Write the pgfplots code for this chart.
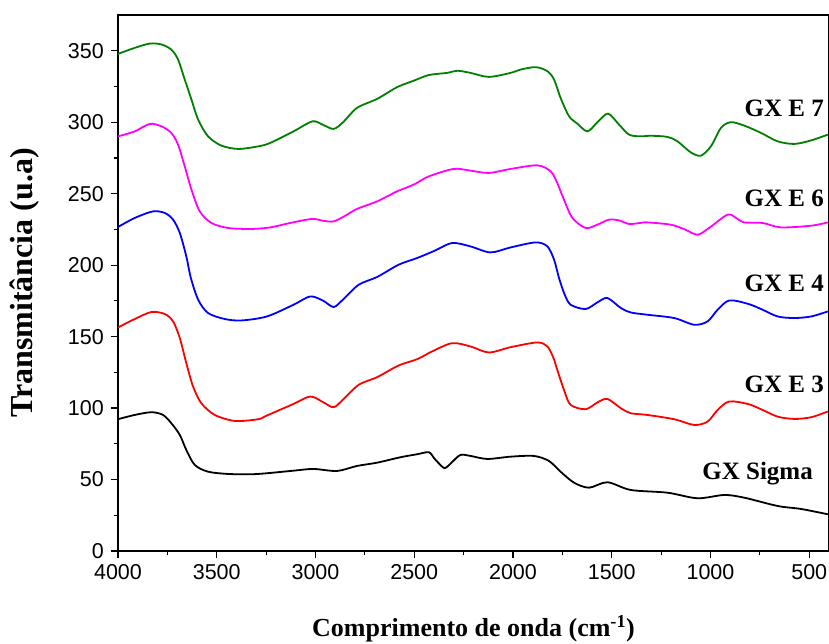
\documentclass[border=0pt]{standalone}
\usepackage{pgfplots}
\pgfplotsset{compat=1.18}
\usepackage{fontspec}
\setmainfont{Liberation Serif}
\newfontfamily\arial{Liberation Sans}
\definecolor{dgreen}{RGB}{0,128,0}
\definecolor{mag}{RGB}{255,0,255}
\definecolor{bl}{RGB}{0,0,255}
\definecolor{rd}{RGB}{255,0,0}
\begin{document}
\begin{tikzpicture}
\begin{axis}[
 scale only axis, width=711pt, height=536pt,
 x dir=reverse, xmin=400, xmax=4000, ymin=0, ymax=375,
 xtick={500,1000,...,4000}, ytick={0,50,...,350},
 minor x tick num=1, minor y tick num=1,
 tick align=outside, xtick pos=bottom, ytick pos=left,
 major tick length=7pt, minor tick length=4pt,
 tick style={line width=1.2pt, black},
 axis line style={line width=1.2pt},
 ticklabel style={font=\arial\fontsize{21.5}{25}\selectfont},
 yticklabel style={inner sep=1pt, xshift=-6pt},
 xticklabel style={inner sep=1pt, yshift=-5pt},
 /pgf/number format/assume math mode=true,
 /pgf/number format/1000 sep={},
 xlabel={Comprimento de onda (cm\textsuperscript{-1})},
 ylabel={Transmitância (u.a)},
 xlabel style={at={(axis description cs:0.5,-0.145)}, anchor=center, font=\bfseries\fontsize{26}{29}\selectfont},
 ylabel style={at={(axis description cs:-0.132,0.5)}, anchor=center, font=\bfseries\fontsize{32}{35}\selectfont},
 every axis plot/.append style={line width=1.8pt, smooth, tension=0.5},
]
\addplot[dgreen] coordinates {(4000,347.8)(3915,352)(3839,355)(3780,354.4)(3730,350.8)(3696,343.9)(3662,329.8)(3628,315.8)(3594,301.8)(3544,290.1)(3476,283.6)(3391,281.3)(3290,283.1)(3229,285.5)(3111,293.6)(3015,300.6)(2960,298)(2908,295.3)(2860,300)(2790,310)(2688,316.3)(2587,324.5)(2503,329)(2426,333)(2333,334.5)(2282,336)(2215,334.5)(2122,331.7)(2012,334.5)(1962,336.8)(1885,338.5)(1826,335.7)(1792,329.8)(1759,317)(1716,304.1)(1674,299)(1623,293.6)(1573,299.9)(1519,306)(1463,298.3)(1412,291.3)(1356,290.1)(1300,290.5)(1218,289.7)(1167,286.6)(1100,278.9)(1049,276.6)(998,283.1)(947,296)(897,300)(829,297.6)(744,292.5)(660,286.6)(575,284.8)(490,287.3)(406,291.3)};
\addplot[mag] coordinates {(4000,290.1)(3915,293.6)(3839,298.8)(3780,297.1)(3730,292.5)(3696,284.3)(3662,269.1)(3628,252.8)(3586,237.6)(3527,229.5)(3442,226)(3324,225.3)(3229,226.4)(3128,229.5)(3018,232.3)(2960,231)(2908,230.6)(2850,234.5)(2790,239.3)(2688,244.6)(2587,251.6)(2503,256.3)(2426,262.1)(2300,267.3)(2215,266.1)(2122,264.5)(2012,267.3)(1877,269.8)(1809,265.6)(1776,257.5)(1742,245.8)(1699,233)(1632,226)(1573,228.3)(1514,231.8)(1463,231.3)(1412,228.8)(1356,229.5)(1320,229.9)(1201,228.3)(1130,225)(1066,221.3)(1007,226)(914,235.3)(870,233)(829,229.9)(736,229.5)(643,226.4)(490,227.6)(406,229.9)};
\addplot[bl] coordinates {(4000,226.7)(3915,233)(3823,237.6)(3763,236.5)(3721,231.8)(3687,222.5)(3654,206.1)(3631,191)(3594,175.8)(3544,166.5)(3459,162.3)(3375,161.3)(3246,164.1)(3111,172.3)(3026,178.1)(2960,175)(2908,170.7)(2860,176)(2781,186.3)(2688,191.7)(2579,200.3)(2485,205)(2393,210.3)(2308,215.5)(2215,213.1)(2114,208.9)(2012,212.4)(1885,215.9)(1826,213.1)(1792,203.8)(1767,191)(1740,180)(1708,172.3)(1632,169.3)(1573,173.9)(1522,177)(1454,170)(1404,166.9)(1320,165.3)(1184,163)(1083,158.3)(1015,160.6)(964,168.8)(905,175.3)(812,173)(744,169.3)(660,164.1)(575,163)(490,164.1)(406,167.6)};
\addplot[rd] coordinates {(4000,156.4)(3915,162.3)(3831,167.2)(3763,165.8)(3721,160.6)(3687,149)(3654,131.4)(3620,115.1)(3578,103.4)(3510,95.2)(3408,91)(3290,92.2)(3246,94.8)(3111,102.9)(3026,108.1)(2960,104)(2908,100.6)(2860,106)(2781,116.3)(2688,121.6)(2579,129.8)(2485,134.2)(2410,139.6)(2308,145.4)(2215,143.1)(2122,138.9)(2012,142.6)(1877,145.9)(1826,143.1)(1795,135)(1776,126.8)(1740,112)(1708,102.2)(1632,99.2)(1573,103.9)(1522,106.4)(1454,99.9)(1404,96.4)(1320,95.2)(1184,92.2)(1083,88.2)(1015,90.5)(964,98.7)(905,104.6)(812,102.9)(744,99.2)(660,94)(575,92.4)(490,93.6)(406,97.6)};
\addplot[black] coordinates {(4000,92.2)(3915,95.2)(3831,97.1)(3772,95.2)(3730,89.4)(3687,81.2)(3654,70.7)(3611,60.2)(3544,55.5)(3442,53.9)(3324,53.7)(3246,54.4)(3111,56.2)(3010,57.4)(2891,56)(2790,59.5)(2688,61.8)(2570,65.6)(2485,67.7)(2426,69.1)(2400,65)(2376,61.4)(2345,58)(2310,62)(2266,67.2)(2215,66.5)(2130,64.4)(2012,66)(1894,66.5)(1818,63)(1759,55.5)(1691,47.8)(1615,44.3)(1522,48.1)(1404,42.7)(1218,40.8)(1066,36.9)(930,39.2)(829,37.3)(660,31.5)(541,29.4)(406,25.7)};
\node[anchor=east, inner sep=0pt, font=\bfseries\fontsize{25}{28}\selectfont] at (axis cs:425,310) {GX E 7};
\node[anchor=east, inner sep=0pt, font=\bfseries\fontsize{25}{28}\selectfont] at (axis cs:425,246.5) {GX E 6};
\node[anchor=east, inner sep=0pt, font=\bfseries\fontsize{25}{28}\selectfont] at (axis cs:425,187.3) {GX E 4};
\node[anchor=east, inner sep=0pt, font=\bfseries\fontsize{25}{28}\selectfont] at (axis cs:425,116.3) {GX E 3};
\node[anchor=east, inner sep=0pt, font=\bfseries\fontsize{25}{28}\selectfont] at (axis cs:481,53.9) {GX Sigma};
\coordinate (bl) at (rel axis cs:0,0);
\coordinate (tr) at (rel axis cs:1,1);
\end{axis}
\pgfresetboundingbox
\path ([shift={(-118pt,-92pt)}]bl) rectangle ([shift={(0pt,15pt)}]tr);
\end{tikzpicture}
\end{document}
